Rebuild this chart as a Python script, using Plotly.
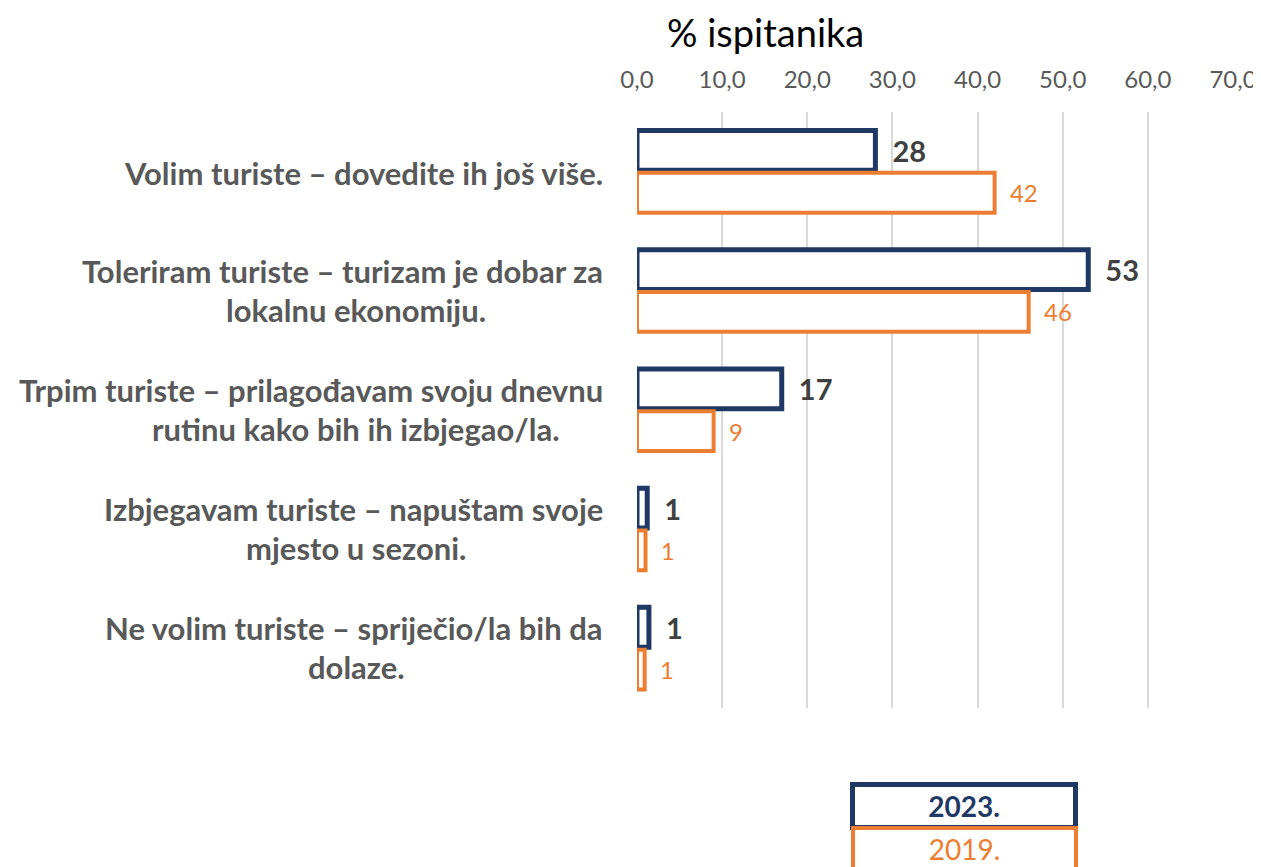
import plotly.graph_objects as go

categories = [
    "Volim turiste – dovedite ih još više.",
    "Toleriram turiste – turizam je dobar za|lokalnu ekonomiju.",
    "Trpim turiste – prilagođavam svoju dnevnu|rutinu kako bih ih izbjegao/la.",
    "Izbjegavam turiste – napuštam svoje|mjesto u sezoni.",
    "Ne volim turiste – spriječio/la bih da|dolaze.",
]
values_2023 = [28, 53, 17, 1.2, 1.4]
values_2019 = [42, 46, 9, 1.0, 0.9]
tick_vals = [0, 10, 20, 30, 40, 50, 60, 70]

NAVY = "#203864"
ORANGE = "#ED7D31"
FONT = "Lato"

cat_ids = [c.split("|")[0] for c in categories]

fig = go.Figure()
fig.add_trace(go.Bar(
    name="2023.", y=cat_ids, x=values_2023, orientation="h",
    marker=dict(color="white", line=dict(color=NAVY, width=5)),
    texttemplate="\u00a0\u00a0%{x:.0f}", textposition="outside", cliponaxis=False,
    outsidetextfont=dict(family=FONT, size=29, color="#404040", weight="bold"),
))
fig.add_trace(go.Bar(
    name="2019.", y=cat_ids, x=values_2019, orientation="h",
    marker=dict(color="white", line=dict(color=ORANGE, width=4)),
    texttemplate="\u00a0\u00a0%{x:.0f}", textposition="outside", cliponaxis=False,
    outsidetextfont=dict(family=FONT, size=24, color=ORANGE),
))

X0, PW = 637.0, 599.0   # plot left edge / width in px, used for paper placement
Y1, PH = 708.0, 596.0   # plot bottom edge / height in px
LBL = dict(family=FONT, size=31, color="#595959")
annotations = []
for cat, cid in zip(categories, cat_ids):
    parts = cat.split("|")
    if len(parts) == 1:
        annotations.append(dict(x=(605 - X0) / PW, xref="paper", y=cid, yref="y", yshift=-1,
                                text="<b>%s</b>" % parts[0], showarrow=False, xanchor="right",
                                font=LBL))
    else:
        annotations.append(dict(x=(605 - X0) / PW, xref="paper", y=cid, yref="y", yshift=20,
                                text="<b>%s</b>" % parts[0], showarrow=False, xanchor="right",
                                font=LBL))
        annotations.append(dict(x=(355 - X0) / PW, xref="paper", y=cid, yref="y", yshift=-19,
                                text="<b>%s</b>" % parts[1], showarrow=False, xanchor="center",
                                font=LBL))

annotations.append(dict(x=(766 - X0) / PW, xref="paper", y=(Y1 - 32) / PH, yref="paper",
                        text="% ispitanika", showarrow=False, xanchor="center", yanchor="middle",
                        font=dict(family=FONT, size=38, color="#000000")))
annotations.append(dict(x=(966 - X0) / PW, xref="paper", y=(Y1 - 806) / PH, yref="paper",
                        text="<b>2023.</b>", showarrow=False, xanchor="center", yanchor="middle",
                        width=218, height=38, borderwidth=5, borderpad=0, bordercolor=NAVY,
                        bgcolor="white", font=dict(family=FONT, size=28, color=NAVY)))
annotations.append(dict(x=(966 - X0) / PW, xref="paper", y=(Y1 - 849) / PH, yref="paper",
                        text="2019.", showarrow=False, xanchor="center", yanchor="middle",
                        width=219, height=38, borderwidth=4, borderpad=0, bordercolor=ORANGE,
                        bgcolor="white", font=dict(family=FONT, size=28, color=ORANGE)))

fig.update_layout(
    width=1261, height=867,
    margin=dict(l=629, r=33, t=104, b=167),
    paper_bgcolor="white", plot_bgcolor="white",
    barmode="group", bargap=0.29, bargroupgap=0.06,
    separators=", ",
    showlegend=False,
    annotations=annotations,
    xaxis=dict(side="top", range=[0, 70], tickvals=tick_vals, tickformat=".1f",
               showgrid=True, gridcolor="#D9D9D9", gridwidth=2, zeroline=False,
               showline=False, ticks="", ticklabelstandoff=18,
               tickfont=dict(family=FONT, size=24, color="#595959")),
    yaxis=dict(autorange="reversed", showticklabels=False, showgrid=False,
               zeroline=False, showline=False, ticks=""),
)

fig.write_html("out.html", config={"responsive": False, "displayModeBar": False})
